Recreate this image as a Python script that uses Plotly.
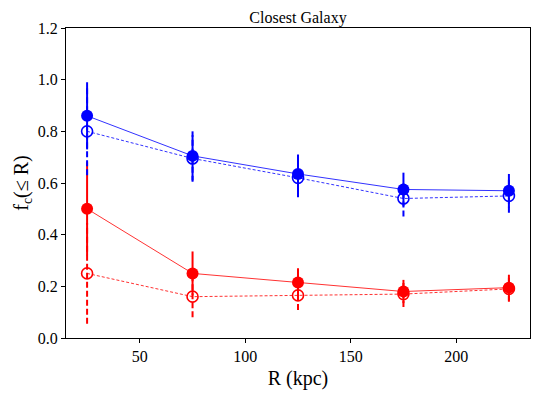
import plotly.graph_objects as go

# radial bins (kpc)
R = [25, 75, 125, 175, 225]

# blue: filled / open
blue_full = [0.86, 0.705, 0.635, 0.575, 0.57]
blue_full_err = [0.13, 0.095, 0.075, 0.065, 0.065]
blue_open = [0.80, 0.695, 0.62, 0.54, 0.55]
blue_open_err = [0.17, 0.09, 0.075, 0.07, 0.065]

# red: filled / open
red_full = [0.50, 0.25, 0.215, 0.18, 0.195]
red_full_err = [0.18, 0.085, 0.055, 0.045, 0.05]
red_open = [0.25, 0.16, 0.165, 0.17, 0.19]
red_open_err = [0.195, 0.08, 0.057, 0.05, 0.05]

FONT = "Liberation Serif"


def err_segments(x, y, e):
    xs, ys = [], []
    for xi, yi, ei in zip(x, y, e):
        xs += [xi, xi, None]
        ys += [yi - ei, yi + ei, None]
    return xs, ys


fig = go.Figure()


def add_series(y, e, color, filled):
    ex, ey = err_segments(R, y, e)
    fig.add_trace(go.Scatter(x=ex, y=ey, mode="lines", showlegend=False,
                             line=dict(color=color, width=2, dash="solid" if filled else "6px,3px"),
                             hoverinfo="skip"))
    fig.add_trace(go.Scatter(x=R, y=y, mode="lines", showlegend=False,
                             line=dict(color=color, width=1, dash="solid" if filled else "3px,2px"),
                             opacity=0.8))
    fig.add_trace(go.Scatter(
        x=R, y=y, mode="markers", showlegend=False,
        marker=dict(symbol="circle" if filled else "circle-open", size=12 if filled else 11,
                    color=color, line=dict(color=color, width=0 if filled else 1.6))))


add_series(red_open, red_open_err, "rgb(255,0,0)", False)
add_series(red_full, red_full_err, "rgb(255,0,0)", True)
add_series(blue_open, blue_open_err, "rgb(0,0,255)", False)
add_series(blue_full, blue_full_err, "rgb(0,0,255)", True)

axis_common = dict(showgrid=False, zeroline=False, showline=True, mirror=True,
                   linecolor="black", linewidth=1, ticks="outside", ticklen=4,
                   tickcolor="black", automargin=False,
                   tickfont=dict(family=FONT, size=16, color="black"))

# the page body adds an 8px margin, so the figure is sized to fit inside the window
fig.update_layout(
    width=532, height=391,
    margin=dict(l=58, r=10, t=20, b=61),
    paper_bgcolor="white", plot_bgcolor="white",
    title=dict(text="Closest Galaxy", xref="paper", x=0.5, xanchor="center",
               yref="container", y=0.977, yanchor="middle",
               font=dict(family=FONT, size=16, color="black")),
    xaxis=dict(range=[15, 235], tickvals=[50, 100, 150, 200],
               title=dict(text="R (kpc)", font=dict(family=FONT, size=20, color="black"), standoff=6),
               **axis_common),
    yaxis=dict(range=[0, 1.2], tickvals=[0, 0.2, 0.4, 0.6, 0.8, 1.0, 1.2],
               ticktext=["0.0", "0.2", "0.4", "0.6", "0.8", "1.0", "1.2"],
               title=dict(text="f<sub>c</sub>(≤ R)", font=dict(family=FONT, size=20, color="black"), standoff=3),
               **axis_common),
)

fig.write_html("out.html")
